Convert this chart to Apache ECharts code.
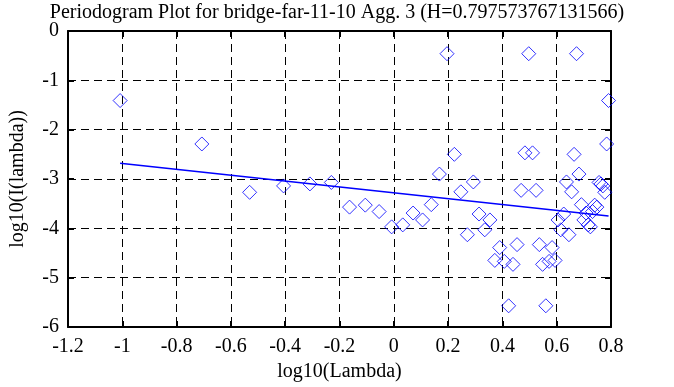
<!DOCTYPE html>
<html><head><meta charset="utf-8">
<script src="https://cdn.jsdelivr.net/npm/echarts@6/dist/echarts.min.js"></script>
<style>html,body{margin:0;padding:0;background:#fff}#c{width:674px;height:387px}</style>
</head><body><div id="c"></div>
<script>
const titleText = 'Periodogram Plot for bridge-far-11-10 Agg. 3 (H=0.797573767131566)';
const xName = 'log10(Lambda)';
const yName = 'log10(I(lambda))';

// log10(Lambda) of each periodogram point
const logLambda = [
  -1.008, -0.707, -0.531, -0.406, -0.309, -0.230, -0.163, -0.105, -0.054, -0.008,
   0.033,  0.071,  0.106,  0.138,  0.168,  0.196,  0.223,  0.247,  0.271,  0.293,
   0.314,  0.335,  0.354,  0.372,  0.390,  0.407,  0.423,  0.439,  0.454,  0.469,
   0.483,  0.497,  0.511,  0.524,  0.536,  0.548,  0.560,  0.572,  0.583,  0.594,
   0.605,  0.615,  0.626,  0.636,  0.645,  0.655,  0.664,  0.673,  0.682,  0.691,
   0.700,  0.708,  0.716,  0.724,  0.732,  0.740,  0.748,  0.756,  0.763,  0.770,
   0.777,  0.784,  0.791
];
// log10(I(lambda)) of each point
const logI = [
  -1.41, -2.29, -3.27, -3.14, -3.10, -3.07, -3.57, -3.53, -3.66, -3.97,
  -3.93, -3.69, -3.83, -3.52, -2.90, -0.46, -2.50, -3.26, -4.13, -3.06,
  -3.71, -4.03, -3.83, -4.65, -4.39, -4.67, -5.57, -4.73, -4.33, -3.23,
  -2.47, -0.46, -2.47, -3.23, -4.33, -4.73, -5.57, -4.67, -4.39, -4.65,
  -3.83, -4.03, -3.71, -3.06, -4.13, -3.26, -2.50, -0.46, -2.90, -3.52,
  -3.83, -3.69, -3.93, -3.97, -3.66, -3.53, -3.57, -3.07, -3.10, -3.14,
  -3.27, -2.29, -1.41
];
// fitted regression line end points
const fitX = [-1.008, 0.791];
const fitY = [-2.68, -3.75];

const xMin = -1.2, xMax = 0.8, xStep = 0.2;
const yMin = -6, yMax = 0, yStep = 1;

const F = 'Liberation Serif';
const txt = {color:'#000', fontFamily:F, fontSize:20, fontWeight:'normal'};
const borderLine = {show:true, onZero:false, lineStyle:{color:'#000', width:2}};
const tick = {show:true, inside:true, length:6, lineStyle:{color:'#000', width:2}};
const grid = {show:true, lineStyle:{color:'#000', width:1, type:[8,5]}};

const chart = echarts.init(document.getElementById('c'), null, {renderer:'canvas'});
chart.setOption({
  animation:false,
  backgroundColor:'#fff',
  title:{text:titleText, left:'center', top:3, padding:0, textStyle:txt},
  grid:{left:63, right:63, top:31, bottom:57},
  xAxis:[
    {type:'value', position:'bottom', min:xMin, max:xMax, interval:xStep,
     axisLine:borderLine, axisTick:tick, splitLine:grid,
     axisLabel:Object.assign({margin:10}, txt),
     name:xName, nameLocation:'middle', nameGap:35, nameTextStyle:txt},
    {type:'value', position:'top', min:xMin, max:xMax, interval:xStep,
     axisLine:borderLine, axisTick:tick, splitLine:{show:false}, axisLabel:{show:false}}
  ],
  yAxis:[
    {type:'value', position:'left', min:yMin, max:yMax, interval:yStep,
     axisLine:borderLine, axisTick:tick, splitLine:grid,
     axisLabel:Object.assign({margin:9}, txt),
     name:yName, nameLocation:'middle', nameGap:40, nameTextStyle:txt},
    {type:'value', position:'right', min:yMin, max:yMax, interval:yStep,
     axisLine:borderLine, axisTick:tick, splitLine:{show:false}, axisLabel:{show:false}}
  ],
  series:[
    {type:'scatter', xAxisIndex:0, yAxisIndex:0,
     data:logLambda.map((x,i)=>[x, logI[i]]),
     symbol:'diamond', symbolSize:14,
     itemStyle:{color:'rgba(0,0,0,0)', borderColor:'#0000ff', borderWidth:1},
     emphasis:{disabled:true}, z:3},
    {type:'line', xAxisIndex:0, yAxisIndex:0,
     data:fitX.map((x,i)=>[x, fitY[i]]),
     symbol:'none', lineStyle:{color:'#0000ff', width:1.5},
     emphasis:{disabled:true}, z:4}
  ]
});
</script></body></html>
